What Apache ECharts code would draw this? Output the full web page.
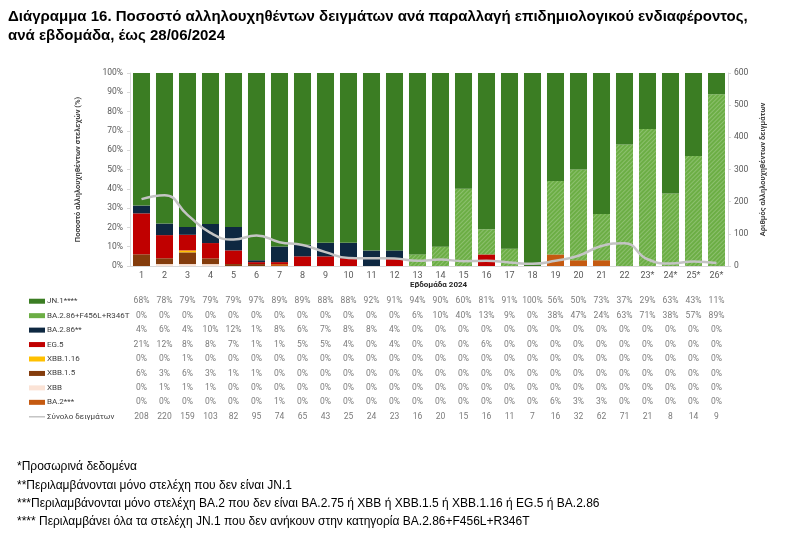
<!DOCTYPE html>
<html>
<head>
<meta charset="utf-8">
<script src="https://cdn.jsdelivr.net/npm/echarts@6/dist/echarts.min.js"></script>
<style>
html,body{margin:0;padding:0;background:#fff;}
#c{width:800px;height:546px;}
</style>
</head>
<body>
<div id="c"></div>
<script>
const weeks = ['1','2','3','4','5','6','7','8','9','10','11','12','13','14','15','16','17','18','19','20','21','22','23*','24*','25*','26*'];
const jn1    = [68,78,79,79,79,97,89,89,88,88,92,91,94,90,60,81,91,100,56,50,73,37,29,63,43,11];
const ba286f = [0,0,0,0,0,0,0,0,0,0,0,0,6,10,40,13,9,0,38,47,24,63,71,38,57,89];
const ba286  = [4,6,4,10,12,1,8,6,7,8,8,4,0,0,0,0,0,0,0,0,0,0,0,0,0,0];
const eg5    = [21,12,8,8,7,1,1,5,5,4,0,4,0,0,0,6,0,0,0,0,0,0,0,0,0,0];
const xbb116 = [0,0,1,0,0,0,0,0,0,0,0,0,0,0,0,0,0,0,0,0,0,0,0,0,0,0];
const xbb15  = [6,3,6,3,1,1,0,0,0,0,0,0,0,0,0,0,0,0,0,0,0,0,0,0,0,0];
const xbb    = [0,1,1,1,0,0,0,0,0,0,0,0,0,0,0,0,0,0,0,0,0,0,0,0,0,0];
const ba2    = [0,0,0,0,0,0,1,0,0,0,0,0,0,0,0,0,0,0,6,3,3,0,0,0,0,0];
const totals = [208,220,159,103,82,95,74,65,43,25,24,23,16,20,15,16,11,7,16,32,62,71,21,8,14,9];

const rowNames = ['JN.1****','BA.2.86+F456L+R346T','BA.2.86**','EG.5','XBB.1.16','XBB.1.5','XBB','BA.2***','Σύνολο δειγμάτων'];
const title1 = 'Διάγραμμα 16. Ποσοστό αλληλουχηθέντων δειγμάτων ανά παραλλαγή επιδημιολογικού ενδιαφέροντος,';
const title2 = 'ανά εβδομάδα, έως 28/06/2024';
const notes = [
  '*Προσωρινά δεδομένα',
  '**Περιλαμβάνονται μόνο στελέχη που δεν είναι JN.1',
  '***Περιλαμβάνονται μόνο στελέχη BA.2 που δεν είναι BA.2.75 ή XBB ή XBB.1.5 ή XBB.1.16 ή EG.5 ή BA.2.86',
  '**** Περιλαμβάνει όλα τα στελέχη JN.1 που δεν ανήκουν στην κατηγορία BA.2.86+F456L+R346T'
];

const pctRows = [jn1, ba286f, ba286, eg5, xbb116, xbb15, xbb, ba2];
const colors = ['#3b7d23','#6cae45','#0e2841','#c00000','#ffc000','#843c0c','#fbe3d6','#c55a11','#c4c4c4'];

const sums = weeks.map((w,i)=>pctRows.reduce((a,r)=>a+r[i],0));
const norm = arr => arr.map((v,i)=>v/sums[i]*100);

const FONT = 'Roboto';
const gray = '#595959';

// stack bottom-to-top: reverse of table rows (BA.2*** at bottom)
const barSeries = [];
for (let k = pctRows.length-1; k >= 0; k--) {
  const s = {
    name: rowNames[k], type: 'bar', stack: 'pct', xAxisIndex: 0, yAxisIndex: 0,
    barCategoryGap: '26%',
    data: norm(pctRows[k]),
    itemStyle: { color: colors[k] },
    emphasis: { disabled: true }
  };
  if (k === 1) {
    s.itemStyle.decal = {
      symbol: 'rect', color: 'rgba(255,255,255,0.22)',
      dashArrayX: [1, 0], dashArrayY: [1, 2], rotation: -Math.PI/4, symbolSize: 1
    };
  }
  barSeries.push(s);
}

const tableData = [];
pctRows.forEach((row, r) => row.forEach((v, c) => tableData.push({ value: [c, r, v + '%'] })));
totals.forEach((v, c) => tableData.push({ value: [c, 8, String(v)] }));

const rich = { t: { color: '#404040', fontSize: 8, fontFamily: FONT, padding: [0,0,0,2] } };
colors.forEach((col, i) => {
  rich['s'+i] = i === 8
    ? { backgroundColor: col, width: 16, height: 1.5 }
    : { backgroundColor: col, width: 16, height: 5 };
});

const option = {
  animation: false,
  textStyle: { fontFamily: FONT },
  grid: [
    { left: 130, right: 72, top: 73, bottom: 280, containLabel: false },
    { left: 130, right: 72, top: 294, height: 130, containLabel: false }
  ],
  xAxis: [
    { type: 'category', gridIndex: 0, data: weeks,
      axisLine: { lineStyle: { color: '#d9d9d9' } }, axisTick: { show: false },
      axisLabel: { color: gray, fontSize: 9, margin: 5, interval: 0 } },
    { type: 'category', gridIndex: 1, data: weeks, show: false }
  ],
  yAxis: [
    { type: 'value', gridIndex: 0, min: 0, max: 100, interval: 10,
      name: 'Ποσοστό αλληλουχηθέντων στελεχών (%)', nameLocation: 'middle', nameRotate: 90, nameGap: 48,
      nameTextStyle: { color: '#404040', fontSize: 7.5, fontWeight: 'bold' },
      axisLine: { show: true, lineStyle: { color: '#d9d9d9' } },
      axisTick: { show: true, length: 3, lineStyle: { color: '#d9d9d9' } },
      splitLine: { show: false },
      axisLabel: { color: gray, fontSize: 8.5, margin: 7, formatter: '{value}%' } },
    { type: 'value', gridIndex: 0, min: 0, max: 600, interval: 100, position: 'right',
      name: 'Αριθμός αλληλουχηθέντων δειγμάτων', nameLocation: 'middle', nameRotate: 90, nameGap: 30,
      nameTextStyle: { color: '#404040', fontSize: 7.5, fontWeight: 'bold' },
      axisLine: { show: true, lineStyle: { color: '#d9d9d9' } },
      axisTick: { show: true, length: 3, lineStyle: { color: '#d9d9d9' } },
      splitLine: { show: false },
      axisLabel: { color: gray, fontSize: 8.5, margin: 6 } },
    { type: 'category', gridIndex: 1, data: rowNames, inverse: true,
      axisLine: { show: false }, axisTick: { show: false }, splitLine: { show: false },
      axisLabel: { align: 'left', margin: 101, interval: 0,
        formatter: (val, idx) => '{s' + idx + '|}{t|' + val + '}',
        rich: rich } }
  ],
  series: [
    ...barSeries,
    { name: 'Σύνολο δειγμάτων', type: 'line', xAxisIndex: 0, yAxisIndex: 1, data: totals,
      smooth: true, symbol: 'none', lineStyle: { color: '#c4c4c4', width: 2.5 }, z: 5 },
    { type: 'scatter', xAxisIndex: 1, yAxisIndex: 2, data: tableData, symbolSize: 0, silent: true,
      label: { show: true, position: 'inside', color: gray, fontSize: 8.5, fontFamily: FONT,
        formatter: p => p.value[2] } }
  ],
  graphic: [
    { type: 'text', left: 8, top: 9, style: { text: title1, font: 'bold 15px "Liberation Sans"', fill: '#000' } },
    { type: 'text', left: 8, top: 28, style: { text: title2, font: 'bold 15px "Liberation Sans"', fill: '#000' } },
    { type: 'text', left: 410, top: 281, style: { text: 'Εβδομάδα 2024', font: 'bold 8px Roboto', fill: '#262626', align: 'center' } },
    ...notes.map((t, i) => ({ type: 'text', left: 17, top: 461 + i * 18.3,
      style: { text: t, font: '12px "Liberation Sans"', fill: '#000' } }))
  ]
};

const chart = echarts.init(document.getElementById('c'), null, { renderer: 'canvas' });
chart.setOption(option);
</script>
</body>
</html>
